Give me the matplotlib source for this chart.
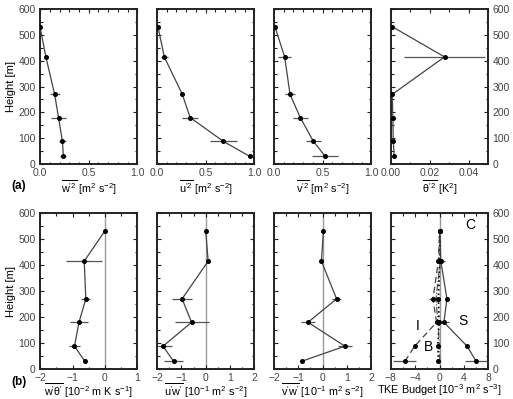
import matplotlib
matplotlib.use("Agg")
import matplotlib.pyplot as plt
from matplotlib.ticker import MultipleLocator

plt.rcParams['font.family'] = ['Liberation Sans', 'DejaVu Sans']
plt.rcParams['mathtext.fontset'] = 'custom'
plt.rcParams['mathtext.rm'] = 'Liberation Sans'
plt.rcParams['mathtext.it'] = 'Liberation Sans'
plt.rcParams['font.size'] = 7.5

# heights [m]
height = [30, 88, 180, 270, 415, 532]

# (a) variances
w2 = [0.24, 0.23, 0.19, 0.15, 0.06, 0.0]
w2_err = [0.03, 0.035, 0.08, 0.05, 0.0, 0.0]
u2 = [0.95, 0.68, 0.34, 0.26, 0.075, 0.01]
u2_err = [0.0, 0.14, 0.08, 0.02, 0.035, 0.0]
v2 = [0.525, 0.405, 0.27, 0.165, 0.11, 0.01]
v2_err = [0.13, 0.08, 0.075, 0.05, 0.065, 0.0]
th2 = [0.0017, 0.0012, 0.001, 0.0007, 0.0275, 0.0007]
th2_err = [0.0, 0.0005, 0.0005, 0.0, 0.021, 0.0]

# (b) fluxes
wth = [-0.62, -0.94, -0.80, -0.59, -0.64, 0.0]
wth_err = [0.0, 0.18, 0.27, 0.14, 0.56, 0.0]
uw = [-1.32, -1.75, -0.58, -0.97, 0.1, 0.0]
uw_err = [0.4, 0.35, 0.7, 0.4, 0.0, 0.0]
vw = [-0.86, 0.91, -0.6, 0.57, -0.05, 0.03]
vw_err = [0.0, 0.3, 0.3, 0.2, 0.0, 0.0]

# TKE budget terms [1e-3 m2 s-3]
tke_S = [6.0, 4.5, 0.7, 1.2, 0.2, 0.0]
tke_S_err = [1.8, 0.0, 0.8, 0.0, 0.6, 0.0]
tke_I = [-5.7, -4.1, -0.5, -1.1, -0.2, 0.0]
tke_I_err = [1.9, 0.0, 0.0, 0.6, 0.0, 0.0]
tke_B = [-0.2, -0.3, -0.1, -0.2, 0.0, 0.0]
tke_C = [0.0, 0.0, -0.3, -0.6, 0.1, 0.0]

fig = plt.figure(figsize=(5.13, 3.99), dpi=100)

W = 0.19
lefts = [0.078, 0.306, 0.534, 0.762]
top_b, top_h = 0.589, 0.388
bot_b, bot_h = 0.075, 0.391

line_c = '#444444'
err_c = '#555555'

def style(ax, xlim, xmaj, xmin, pos):
    ax.set_ylim(0, 600)
    ax.set_xlim(*xlim)
    ax.xaxis.set_major_locator(MultipleLocator(xmaj))
    ax.xaxis.set_minor_locator(MultipleLocator(xmin))
    ax.yaxis.set_major_locator(MultipleLocator(100))
    ax.yaxis.set_minor_locator(MultipleLocator(50))
    ax.tick_params(which='both', direction='in', top=True, right=True,
                   length=3, width=0.8, labelsize=7.5, colors='#222222',
                   labelcolor='#444444', pad=3)
    ax.tick_params(which='minor', length=1.8)
    for s in ax.spines.values():
        s.set_linewidth(1.4)
        s.set_color('#222222')
    if pos == 0:
        ax.set_ylabel('Height [m]', fontsize=8, labelpad=2)
    elif pos == 3:
        ax.yaxis.set_label_position('right')
        ax.tick_params(labelleft=False, labelright=True)
    else:
        ax.tick_params(labelleft=False)

def prof(ax, x, xerr, ls='-'):
    ax.errorbar(x, height, xerr=xerr, fmt='none', ecolor=err_c, elinewidth=0.9, capsize=0, zorder=2)
    ax.plot(x, height, ls=ls, color=line_c, lw=0.9, zorder=3)
    ax.plot(x, height, 'o', color='black', ms=2.6, zorder=4)

top_data = [(w2, w2_err, (0, 1), 0.5, 0.1, r"$\overline{\mathrm{w'^2}}$ [m$^2$ s$^{-2}$]"),
            (u2, u2_err, (0, 1), 0.5, 0.1, r"$\overline{\mathrm{u'^2}}$ [m$^2$ s$^{-2}$]"),
            (v2, v2_err, (0, 1), 0.5, 0.1, r"$\overline{\mathrm{v'^2}}$ [m$^2$ s$^{-2}$]"),
            (th2, th2_err, (0, 0.05), 0.02, 0.01, r"$\overline{\theta'^2}$ [K$^2$]")]

for i, (x, xe, xl, mj, mn, lab) in enumerate(top_data):
    ax = fig.add_axes([lefts[i], top_b, W, top_h])
    style(ax, xl, mj, mn, i)
    prof(ax, x, xe)
    ax.set_xlabel(lab, fontsize=7.8, labelpad=0)
    if i < 3:
        ax.set_xticks([0, 0.5, 1.0])
        ax.set_xticklabels(['0.0', '0.5', '1.0'])
    else:
        ax.set_xticks([0, 0.02, 0.04])
        ax.set_xticklabels(['0.00', '0.02', '0.04'])

bot_data = [(wth, wth_err, (-2, 1), r"$\overline{\mathrm{w'\theta'}}$ [10$^{-2}$ m K s$^{-1}$]"),
            (uw, uw_err, (-2, 2), r"$\overline{\mathrm{u'w'}}$ [10$^{-1}$ m$^2$ s$^{-2}$]"),
            (vw, vw_err, (-2, 2), r"$\overline{\mathrm{v'w'}}$ [10$^{-1}$ m$^2$ s$^{-2}$]")]

for i, (x, xe, xl, lab) in enumerate(bot_data):
    ax = fig.add_axes([lefts[i], bot_b, W, bot_h])
    style(ax, xl, 1, 0.5, i)
    ax.axvline(0, color='#999999', lw=1.0, zorder=1)
    prof(ax, x, xe)
    ax.set_xlabel(lab, fontsize=7.8, labelpad=-1)

ax = fig.add_axes([lefts[3], bot_b, W, bot_h])
style(ax, (-8, 8), 4, 2, 3)
ax.axvline(0, color='#999999', lw=1.0, zorder=1)
prof(ax, tke_S, tke_S_err, '-')
prof(ax, tke_I, tke_I_err, (0, (5, 3)))
ax.plot(tke_B, height, ls=':', color='black', lw=1.2, zorder=3)
ax.plot(tke_B, height, 'o', color='black', ms=2.6, zorder=4)
ax.plot(tke_C, height, ls='-.', color=line_c, lw=0.8, zorder=3)
ax.set_xlabel(r"TKE Budget [10$^{-3}$ m$^2$ s$^{-3}$]", fontsize=7.8, labelpad=-1)
ax.text(5.0, 555, 'C', fontsize=10, ha='center', va='center')
ax.text(3.8, 185, 'S', fontsize=10, ha='center', va='center')
ax.text(-3.6, 165, 'I', fontsize=10, ha='center', va='center')
ax.text(-1.8, 85, 'B', fontsize=10, ha='center', va='center')

fig.text(0.022, 0.534, '(a)', fontsize=8.5, fontweight='bold', va='center')
fig.text(0.022, 0.042, '(b)', fontsize=8.5, fontweight='bold', va='center')

fig.savefig('out.png', dpi=100)
